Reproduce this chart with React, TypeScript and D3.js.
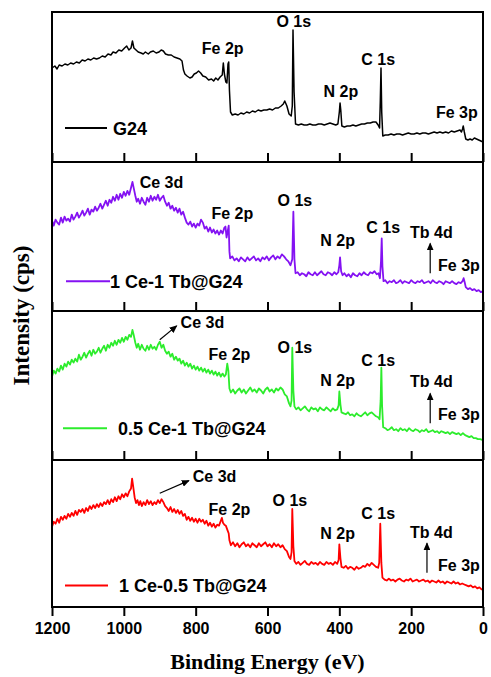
import { useEffect, useRef } from 'react';
import * as d3 from 'd3';

type Pt = [number, number];

// binding energy ticks (eV)
const energyTicks = [1200, 1000, 800, 600, 400, 200, 0];
const sampleNames = ['G24', '1 Ce-1 Tb@G24', '0.5 Ce-1 Tb@G24', '1 Ce-0.5 Tb@G24'];
const sampleColors = ['#000000', '#8412f2', '#2cec2c', '#ff0000'];

// survey spectra, [binding energy, intensity] (arbitrary cps per panel)
const g24: Pt[] = [
  [1200, 94], [1192, 96], [1186, 93], [1180, 97], [1172, 96], [1164, 98], [1156, 97], [1148, 99], [1140, 98], [1132, 100],
  [1124, 99], [1116, 102], [1108, 101], [1100, 103], [1092, 102], [1084, 104], [1076, 103], [1068, 104], [1060, 106], [1052, 105],
  [1044, 108], [1036, 107], [1030, 110], [1022, 109], [1014, 112], [1006, 111], [998, 114], [992, 116], [986, 112], [980, 114],
  [976, 121], [972, 114], [966, 112], [960, 110], [952, 109], [946, 108], [940, 110], [932, 108], [926, 110], [918, 111],
  [910, 109], [902, 110], [896, 112], [890, 111], [884, 108], [876, 107], [868, 107], [860, 105], [852, 104], [844, 103],
  [838, 101], [834, 92], [830, 88], [824, 86], [816, 84], [810, 85], [804, 88], [798, 89], [792, 91], [786, 89],
  [780, 86], [772, 85], [764, 82], [756, 83], [750, 81], [744, 84], [738, 82], [732, 85], [726, 87], [723, 99],
  [720, 88], [716, 80], [713, 79], [710, 98], [708, 100], [706, 72], [703, 50], [698, 47], [690, 48], [682, 47],
  [674, 49], [666, 48], [658, 50], [650, 49], [642, 51], [634, 50], [626, 52], [618, 51], [610, 52], [602, 52],
  [594, 53], [586, 52], [578, 54], [570, 54], [562, 56], [556, 58], [552, 61], [546, 56], [540, 48], [534, 46],
  [531, 56], [529, 132], [526, 70], [522, 38], [514, 37], [506, 38], [498, 37], [490, 37], [482, 38], [474, 37],
  [466, 37], [458, 38], [450, 38], [442, 37], [434, 38], [426, 39], [418, 38], [410, 37], [404, 38], [400, 50],
  [398, 59], [396, 52], [393, 36], [386, 35], [378, 36], [370, 36], [362, 37], [354, 36], [346, 37], [338, 38],
  [330, 38], [322, 39], [314, 39], [306, 40], [298, 40], [292, 37], [288, 34], [286, 60], [284, 94], [282, 50],
  [279, 26], [272, 27], [264, 27], [256, 28], [248, 27], [240, 28], [232, 28], [224, 27], [216, 28], [208, 29],
  [200, 28], [192, 28], [184, 29], [176, 28], [168, 29], [160, 29], [152, 28], [144, 29], [136, 30], [128, 29],
  [120, 30], [112, 29], [104, 30], [96, 29], [88, 31], [80, 30], [72, 31], [64, 32], [60, 30], [57, 33],
  [55, 36], [52, 30], [48, 23], [42, 22], [36, 23], [30, 22], [24, 24], [18, 23], [12, 22], [6, 21], [0, 20],
];

const ce1tb1: Pt[] = [
  [1200, 91], [1195, 86], [1190, 92], [1185, 89], [1180, 87], [1175, 94], [1170, 89], [1165, 95], [1160, 91], [1155, 93],
  [1150, 90], [1145, 97], [1140, 92], [1135, 95], [1130, 99], [1125, 94], [1120, 97], [1115, 101], [1110, 96], [1105, 99],
  [1100, 103], [1095, 97], [1090, 102], [1085, 100], [1080, 105], [1075, 101], [1070, 104], [1065, 108], [1060, 103], [1055, 107],
  [1050, 111], [1045, 106], [1040, 112], [1035, 109], [1030, 115], [1025, 111], [1020, 117], [1015, 112], [1010, 118], [1005, 114],
  [1000, 120], [995, 116], [990, 121], [985, 117], [980, 124], [976, 130], [972, 123], [968, 116], [964, 110], [960, 113],
  [955, 108], [950, 114], [945, 110], [940, 107], [935, 114], [930, 110], [925, 116], [920, 111], [915, 115], [910, 112],
  [905, 117], [900, 111], [895, 114], [890, 116], [885, 110], [880, 106], [875, 109], [870, 103], [865, 106], [860, 101],
  [855, 104], [850, 99], [845, 103], [840, 97], [835, 100], [830, 94], [825, 89], [820, 87], [815, 90], [810, 85],
  [805, 88], [800, 84], [795, 88], [790, 86], [785, 92], [780, 89], [775, 83], [770, 85], [765, 80], [760, 84],
  [755, 79], [750, 82], [745, 78], [740, 81], [735, 77], [730, 81], [725, 78], [720, 84], [717, 85], [714, 74],
  [711, 80], [708, 86], [706, 60], [704, 53], [698, 55], [692, 51], [686, 53], [680, 50], [674, 54], [668, 52],
  [662, 50], [656, 54], [650, 51], [644, 53], [638, 55], [632, 51], [626, 53], [620, 50], [614, 54], [608, 52],
  [602, 55], [596, 51], [590, 54], [584, 56], [578, 52], [572, 55], [566, 53], [560, 57], [554, 55], [548, 52],
  [542, 50], [536, 46], [531, 52], [528, 100], [525, 52], [522, 38], [516, 39], [510, 36], [504, 38], [498, 37],
  [492, 35], [486, 39], [480, 37], [474, 36], [468, 39], [462, 36], [456, 38], [450, 40], [444, 37], [438, 36],
  [432, 39], [426, 38], [420, 36], [414, 39], [408, 37], [403, 39], [400, 46], [398, 54], [395, 40], [391, 36],
  [386, 38], [380, 35], [374, 37], [368, 34], [362, 38], [356, 36], [350, 35], [344, 38], [338, 36], [332, 39],
  [326, 37], [320, 36], [314, 39], [308, 38], [302, 40], [296, 37], [291, 38], [287, 33], [284, 50], [282, 73],
  [280, 45], [277, 30], [272, 31], [266, 28], [260, 30], [254, 29], [248, 31], [242, 28], [236, 29], [230, 31],
  [224, 28], [218, 30], [212, 29], [206, 28], [200, 31], [194, 29], [188, 28], [182, 30], [176, 29], [170, 31],
  [164, 28], [158, 29], [152, 30], [146, 28], [140, 31], [134, 29], [128, 28], [122, 30], [116, 29], [110, 27],
  [104, 30], [98, 29], [92, 28], [86, 30], [80, 28], [74, 27], [68, 29], [62, 28], [57, 30], [54, 33],
  [51, 29], [48, 24], [42, 22], [36, 23], [30, 21], [24, 22], [18, 20], [12, 21], [6, 19], [0, 20],
];

const ce05tb1: Pt[] = [
  [1200, 84], [1195, 90], [1190, 87], [1185, 92], [1180, 89], [1175, 95], [1170, 91], [1165, 97], [1160, 94], [1155, 99],
  [1150, 96], [1145, 101], [1140, 98], [1135, 102], [1130, 99], [1125, 106], [1120, 101], [1115, 104], [1110, 108], [1105, 103],
  [1100, 107], [1095, 110], [1090, 105], [1085, 111], [1080, 107], [1075, 109], [1070, 113], [1065, 108], [1060, 112], [1055, 115],
  [1050, 110], [1045, 116], [1040, 113], [1035, 118], [1030, 115], [1025, 120], [1020, 116], [1015, 121], [1010, 118], [1005, 123],
  [1000, 119], [995, 124], [990, 121], [985, 126], [980, 124], [976, 131], [972, 125], [968, 118], [964, 113], [960, 117],
  [955, 111], [950, 116], [945, 112], [940, 110], [935, 115], [930, 111], [925, 116], [920, 112], [915, 114], [910, 111],
  [905, 116], [900, 119], [895, 113], [890, 116], [885, 110], [880, 107], [875, 109], [870, 104], [865, 107], [860, 101],
  [855, 104], [850, 100], [845, 102], [840, 97], [835, 100], [830, 95], [825, 98], [820, 94], [815, 97], [810, 92],
  [805, 95], [800, 91], [795, 94], [790, 90], [785, 93], [780, 89], [775, 92], [770, 88], [765, 91], [760, 87],
  [755, 90], [750, 86], [745, 89], [740, 85], [735, 88], [730, 84], [725, 87], [720, 84], [716, 86], [712, 97],
  [709, 90], [706, 72], [702, 68], [696, 71], [690, 67], [684, 70], [678, 72], [672, 68], [666, 71], [660, 67],
  [654, 70], [648, 73], [642, 69], [636, 71], [630, 68], [624, 72], [618, 70], [612, 67], [606, 71], [600, 73],
  [594, 69], [588, 71], [582, 68], [576, 72], [570, 70], [564, 73], [558, 71], [552, 66], [546, 64], [540, 57],
  [536, 54], [533, 60], [531, 113], [528, 70], [525, 54], [520, 51], [514, 53], [508, 50], [502, 52], [496, 54],
  [490, 51], [484, 49], [478, 53], [472, 51], [466, 52], [460, 49], [454, 53], [448, 51], [442, 50], [436, 53],
  [430, 51], [424, 49], [418, 52], [412, 50], [406, 51], [402, 55], [400, 69], [397, 56], [394, 48], [388, 47],
  [382, 46], [376, 48], [370, 45], [364, 46], [358, 44], [352, 47], [346, 45], [340, 44], [334, 46], [328, 48],
  [322, 45], [316, 47], [310, 48], [304, 46], [298, 44], [292, 43], [288, 41], [285, 60], [283, 93], [281, 55],
  [278, 33], [272, 32], [266, 30], [260, 31], [254, 33], [248, 30], [242, 31], [236, 29], [230, 32], [224, 30],
  [218, 31], [212, 29], [206, 32], [200, 30], [194, 29], [188, 31], [182, 30], [176, 28], [170, 30], [164, 29],
  [158, 31], [152, 28], [146, 29], [140, 30], [134, 28], [128, 29], [122, 27], [116, 29], [110, 28], [104, 27],
  [98, 28], [92, 26], [86, 28], [80, 27], [74, 26], [68, 27], [62, 25], [56, 27], [50, 25], [44, 24],
  [38, 23], [32, 24], [26, 22], [20, 22], [14, 21], [8, 21], [0, 20],
];

const ce1tb05: Pt[] = [
  [1200, 82], [1195, 87], [1190, 85], [1185, 90], [1180, 86], [1175, 92], [1170, 89], [1165, 93], [1160, 90], [1155, 95],
  [1150, 92], [1145, 96], [1140, 93], [1135, 98], [1130, 94], [1125, 99], [1120, 97], [1115, 100], [1110, 96], [1105, 101],
  [1100, 98], [1095, 103], [1090, 100], [1085, 104], [1080, 101], [1075, 105], [1070, 102], [1065, 106], [1060, 103], [1055, 107],
  [1050, 105], [1045, 109], [1040, 105], [1035, 110], [1030, 107], [1025, 112], [1020, 108], [1015, 113], [1010, 110], [1005, 115],
  [1000, 112], [995, 116], [990, 113], [985, 118], [980, 121], [977, 131], [974, 123], [970, 112], [966, 106], [962, 109],
  [958, 104], [954, 108], [950, 103], [945, 107], [940, 104], [935, 109], [930, 105], [925, 108], [920, 104], [915, 107],
  [910, 105], [905, 109], [900, 106], [895, 110], [890, 107], [885, 103], [880, 101], [875, 98], [870, 102], [865, 97],
  [860, 100], [855, 96], [850, 99], [845, 95], [840, 98], [835, 93], [830, 95], [825, 89], [820, 92], [815, 88],
  [810, 91], [805, 87], [800, 90], [795, 86], [790, 90], [785, 87], [780, 89], [775, 85], [770, 88], [765, 83],
  [760, 86], [755, 82], [750, 85], [745, 81], [740, 84], [735, 83], [730, 88], [727, 91], [724, 86], [720, 84],
  [716, 83], [712, 79], [708, 75], [706, 68], [702, 63], [696, 66], [690, 62], [684, 65], [678, 61], [672, 64],
  [666, 66], [660, 62], [654, 64], [648, 61], [642, 65], [636, 63], [630, 61], [624, 65], [618, 62], [612, 64],
  [606, 66], [600, 62], [594, 64], [588, 61], [582, 65], [576, 62], [570, 64], [564, 61], [558, 63], [552, 59],
  [546, 57], [540, 51], [536, 49], [533, 56], [531, 100], [528, 62], [525, 47], [520, 44], [514, 46], [508, 43],
  [502, 45], [496, 47], [490, 44], [484, 43], [478, 46], [472, 44], [466, 45], [460, 43], [454, 46], [448, 44],
  [442, 43], [436, 46], [430, 44], [424, 45], [418, 43], [412, 46], [406, 44], [402, 48], [400, 64], [397, 50],
  [394, 41], [388, 40], [382, 42], [376, 39], [370, 41], [364, 40], [358, 38], [352, 41], [346, 39], [340, 40],
  [334, 42], [328, 41], [322, 44], [316, 42], [310, 45], [304, 43], [298, 41], [292, 40], [289, 45], [286, 85],
  [283, 45], [280, 30], [274, 28], [268, 27], [262, 29], [256, 27], [250, 28], [244, 26], [238, 28], [232, 29],
  [226, 27], [220, 26], [214, 28], [208, 27], [202, 29], [196, 26], [190, 27], [184, 28], [178, 26], [172, 27],
  [166, 28], [160, 26], [154, 27], [148, 25], [142, 27], [136, 26], [130, 25], [124, 27], [118, 25], [112, 26],
  [106, 24], [100, 26], [94, 25], [88, 24], [82, 26], [76, 24], [70, 25], [64, 23], [58, 24], [52, 23],
  [46, 22], [40, 21], [34, 22], [28, 20], [22, 21], [16, 19], [10, 20], [4, 18], [0, 18],
];

const spectra = [g24, ce1tb1, ce05tb1, ce1tb05];

// peak labels: [text, energy at text start, intensity at baseline]
const peakLabels: [string, number, number][][] = [
  [['O 1s', 575, 135], ['Fe 2p', 783, 108], ['C 1s', 339, 97], ['N 2p', 444, 65], ['Fe 3p', 131, 44]],
  [['Ce 3d', 956, 124], ['O 1s', 572, 106], ['Fe 2p', 756, 93], ['N 2p', 453, 65], ['C 1s', 325, 79], ['Tb 4d', 203, 73], ['Fe 3p', 125, 40]],
  [['Ce 3d', 842, 133], ['Fe 2p', 764, 101], ['O 1s', 572, 108], ['C 1s', 339, 95], ['N 2p', 453, 74], ['Tb 4d', 203, 73], ['Fe 3p', 125, 40]],
  [['Ce 3d', 808, 128], ['Fe 2p', 764, 94], ['O 1s', 586, 103], ['C 1s', 339, 90], ['N 2p', 453, 69], ['Tb 4d', 203, 70], ['Fe 3p', 125, 37]],
];

// arrows: [e1, v1, e2, v2] from tail to head
const peakArrows: [number, number, number, number][][] = [
  [],
  [[147, 38, 147, 68]],
  [[900, 121, 853, 135], [147, 37, 147, 67]],
  [[900, 116, 819, 129], [156, 35, 156, 65]],
];

export default function App() {
  const svgRef = useRef<SVGSVGElement>(null);
  const width = 491;
  const height = 677;
  const left = 52;
  const right = 483;
  const edges = [12, 162, 311, 460, 607];
  const sans = "'Liberation Sans', Arial, sans-serif";
  const serif = "'Liberation Serif', 'Times New Roman', serif";

  useEffect(() => {
    if (!svgRef.current) return;
    const svg = d3.select(svgRef.current);
    svg.selectAll('*').remove();

    const x = d3.scaleLinear().domain([1200, 0]).range([left, right]);

    svg.append('defs').append('marker')
      .attr('id', 'arrowhead')
      .attr('markerUnits', 'userSpaceOnUse')
      .attr('markerWidth', 8)
      .attr('markerHeight', 7)
      .attr('refX', 7)
      .attr('refY', 3.5)
      .attr('orient', 'auto')
      .append('path')
      .attr('d', 'M0,0 L8,3.5 L0,7 Z')
      .attr('fill', '#000');

    spectra.forEach((data, i) => {
      const top = edges[i];
      const bottom = edges[i + 1];
      const y = d3.scaleLinear().domain([0, 150]).range([bottom, top]);
      const g = svg.append('g');

      // ticks on the bottom edge of each panel (inward for stacked, outward at the bottom)
      const isLast = i === spectra.length - 1;
      const axis = d3.axisBottom(x)
        .tickValues(energyTicks)
        .tickSizeInner(isLast ? 9 : -9)
        .tickSizeOuter(0)
        .tickPadding(7)
        .tickFormat(d => (isLast ? String(d) : ''));
      const ax = g.append('g')
        .attr('transform', `translate(0,${bottom})`)
        .call(axis);
      ax.select('.domain').remove();
      ax.selectAll('line').attr('stroke', '#000').attr('stroke-width', 2);
      ax.selectAll('text')
        .attr('fill', '#000')
        .style('font-family', sans)
        .style('font-size', '16px')
        .style('font-weight', 'bold');

      const line = d3.line<Pt>()
        .x(d => x(d[0]))
        .y(d => y(d[1]));

      g.append('path')
        .datum(data)
        .attr('fill', 'none')
        .attr('stroke', sampleColors[i])
        .attr('stroke-width', i === 0 ? 1.5 : 1.8)
        .attr('stroke-linejoin', 'round')
        .attr('d', line);

      peakLabels[i].forEach(([label, e, v]) => {
        g.append('text')
          .attr('x', x(e))
          .attr('y', y(v))
          .style('font-family', sans)
          .style('font-size', '16px')
          .style('font-weight', 'bold')
          .attr('fill', '#000')
          .text(label);
      });

      peakArrows[i].forEach(([e1, v1, e2, v2]) => {
        g.append('line')
          .attr('x1', x(e1))
          .attr('y1', y(v1))
          .attr('x2', x(e2))
          .attr('y2', y(v2))
          .attr('stroke', '#000')
          .attr('stroke-width', 1.2)
          .attr('marker-end', 'url(#arrowhead)');
      });

      // legend
      const legendV = [34, 30, 32, 22][i];
      const legendX = [[65, 107, 113], [66, 110, 110], [63, 107, 118], [65, 108, 119]][i];
      g.append('line')
        .attr('x1', legendX[0])
        .attr('x2', legendX[1])
        .attr('y1', y(legendV))
        .attr('y2', y(legendV))
        .attr('stroke', sampleColors[i])
        .attr('stroke-width', 2);
      g.append('text')
        .attr('x', legendX[2])
        .attr('y', y(legendV) + 6.5)
        .style('font-family', sans)
        .style('font-size', '18px')
        .style('font-weight', 'bold')
        .attr('fill', '#000')
        .text(sampleNames[i]);
    });

    // frame and dividers
    svg.append('rect')
      .attr('x', left)
      .attr('y', edges[0])
      .attr('width', right - left)
      .attr('height', edges[4] - edges[0])
      .attr('fill', 'none')
      .attr('stroke', '#000')
      .attr('stroke-width', 2);
    edges.slice(1, 4).forEach(e => {
      svg.append('line')
        .attr('x1', left)
        .attr('x2', right)
        .attr('y1', e)
        .attr('y2', e)
        .attr('stroke', '#000')
        .attr('stroke-width', 2);
    });

    // axis titles
    svg.append('text')
      .attr('x', (left + right) / 2)
      .attr('y', 669)
      .attr('text-anchor', 'middle')
      .style('font-family', serif)
      .style('font-size', '22px')
      .style('font-weight', 'bold')
      .text('Binding Energy (eV)');

    svg.append('text')
      .attr('transform', `translate(29,${(edges[0] + edges[4]) / 2 + 6}) rotate(-90)`)
      .attr('text-anchor', 'middle')
      .style('font-family', serif)
      .style('font-size', '23px')
      .style('font-weight', 'bold')
      .text('Intensity (cps)');
  }, []);

  return (
    <svg
      ref={svgRef}
      width={width}
      height={height}
      viewBox={`0 0 ${width} ${height}`}
      style={{ position: 'absolute', left: 0, top: 0, background: '#fff' }}
    />
  );
}
